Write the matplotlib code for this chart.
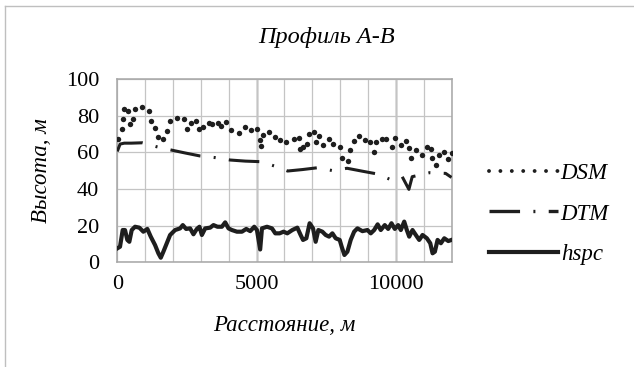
import matplotlib
matplotlib.use('Agg')
import matplotlib.pyplot as plt
from matplotlib.lines import Line2D
from matplotlib.ticker import MultipleLocator

plt.rcParams['font.family'] = ['Liberation Serif', 'DejaVu Serif']
plt.rcParams['lines.scale_dashes'] = False

# DSM (dotted series) - dot positions
dsm_x = [40, 160, 195, 250, 400, 445, 575, 645, 900, 1130,
         1225, 1355, 1450, 1635, 1790, 1905, 2145, 2390, 2520, 2650,
         2840, 2930, 3060, 3290, 3405, 3600, 3730, 3910, 4080, 4365,
         4595, 4810, 5015, 5120, 5170, 5230, 5445, 5645, 5855, 6045,
         6330, 6510, 6570, 6670, 6815, 6885, 7050, 7145, 7245, 7400,
         7605, 7750, 7985, 8085, 8275, 8345, 8490, 8685, 8900, 9065,
         9210, 9305, 9520, 9665, 9870, 9965, 10170, 10360, 10480, 10555,
         10710, 10950, 11130, 11275, 11310, 11455, 11560, 11725, 11870, 12000]
dsm_y = [67.3, 72.5, 78, 83.8, 82.7, 75.4, 78, 83.5, 84.6, 82.7,
         76.9, 73.4, 68.2, 67.1, 71.8, 76.9, 78.7, 78.2, 72.9, 76,
         77.2, 72.5, 73.6, 75.8, 75.6, 76.2, 74.4, 76.7, 72, 70.4,
         73.8, 72, 72.5, 66.9, 63.6, 69.4, 71.2, 68.4, 66.5, 65.7,
         67.1, 67.6, 61.6, 62.9, 64.4, 70, 71.1, 65.5, 68.7, 64,
         67.3, 64.4, 62.7, 57.1, 55.4, 61.3, 66.3, 68.9, 66.5, 65.8,
         60.2, 65.8, 67.3, 67.4, 62.7, 67.6, 64, 66.3, 62.4, 56.7,
         61.3, 58.7, 63.1, 61.8, 56.7, 53.1, 58.5, 60.3, 56.2, 59.5]

# DTM (long dash - dot)
dtm_x = [0, 100, 250, 500, 900, 1400, 1920, 2450, 2975, 3525,
         4050, 4600, 5130, 5650, 6115, 6650, 7195, 7735, 8250, 8800,
         9330, 9785, 10230, 10470, 10590, 11220, 11790, 12000]
dtm_y = [60.5, 64.5, 65, 65, 65.2, 63.1, 61.3, 59.6, 58, 57.1,
         55.8, 55.2, 54.9, 52.5, 49.8, 50.6, 51.6, 50, 51.3, 49.7,
         48.2, 45.3, 46.7, 39.8, 46.7, 48.9, 48.5, 46.3]

# hspc (solid)
hspc_x = [0, 97, 194, 277, 360, 432, 518, 637, 791, 935,
          1079, 1201, 1356, 1475, 1561, 1655, 1777, 1896, 2075, 2255,
          2352, 2471, 2615, 2734, 2856, 2950, 3036, 3155, 3334, 3453,
          3597, 3755, 3874, 3993, 4115, 4295, 4475, 4630, 4773, 4917,
          5014, 5130, 5194, 5374, 5554, 5673, 5827, 5971, 6104, 6284,
          6464, 6583, 6669, 6788, 6906, 7028, 7122, 7219, 7363, 7482,
          7604, 7723, 7842, 7986, 8057, 8155, 8262, 8381, 8504, 8622,
          8802, 8982, 9101, 9223, 9348, 9460, 9604, 9726, 9845, 9964,
          10086, 10180, 10302, 10396, 10482, 10600, 10719, 10841, 10960, 11115,
          11237, 11320, 11403, 11500, 11619, 11741, 11885, 12000]
hspc_y = [7.6, 8.5, 17.6, 17.6, 12.2, 11.2, 17.6, 19.4, 18.9, 16.7,
          18.2, 14, 9.4, 4.9, 2.5, 5.8, 10.4, 14.9, 17.6, 18.5,
          20.3, 18.2, 18.5, 15.3, 18.2, 19.4, 14.9, 18.5, 18.9, 20.3,
          19.4, 19.4, 21.8, 18.5, 17.6, 16.7, 16.7, 18.2, 17, 19.4,
          17.6, 7, 18.5, 19.4, 18.5, 15.8, 15.8, 16.7, 15.8, 17.6,
          18.9, 14.9, 12.2, 13.1, 21.3, 18.5, 11.2, 17.6, 16.7, 14.9,
          14, 15.8, 13.1, 12.2, 8.5, 4, 5.8, 12.2, 16.7, 18.5,
          17, 17.6, 15.8, 17.6, 20.7, 17.6, 20.3, 18.2, 21.3, 18.2,
          20.3, 17.6, 22.2, 17.6, 14, 17.6, 14.9, 12.2, 14.9, 13.1,
          10.4, 4.9, 5.8, 12.2, 10.4, 13.1, 11.6, 12.2]

x_ticks = [0, 5000, 10000]
x_major_lines = [5000, 10000]
y_ticks = [0, 20, 40, 60, 80, 100]

ink = '#1e1e1e'
grid_col = '#c4c4c4'
fs_tick = 16
fs_lab = 16.5
dtm_dash = (22, 9.6, 1.44, 9.6)

fig = plt.figure(figsize=(6.34, 3.67), dpi=100)
ax = fig.add_axes([117.3 / 634, 1 - 262.3 / 367, (451.5 - 117.3) / 634, (262.3 - 79) / 367])

ax.plot(hspc_x, hspc_y, color=ink, lw=3.0, solid_joinstyle='round', zorder=3)
ax.plot(dtm_x, dtm_y, color=ink, lw=2.2, dashes=dtm_dash, zorder=3)
ax.plot(dsm_x, dsm_y, linestyle='none', marker='o', ms=3.9, color=ink, mec='none', zorder=3)

ax.set_xlim(0, 12000)
ax.set_ylim(0, 100)
ax.set_xticks(x_ticks)
ax.set_yticks(y_ticks)
ax.xaxis.set_minor_locator(MultipleLocator(1000))
ax.grid(True, which='both', color=grid_col, lw=0.9, zorder=0)
for xv in x_major_lines:
    ax.axvline(xv, color='black', lw=0.9, zorder=1)
for s in ax.spines.values():
    s.set_color('#a6a6a6')
    s.set_linewidth(1.1)
ax.tick_params(which='both', length=0)
ax.tick_params(axis='y', pad=13, labelsize=fs_tick)
ax.tick_params(axis='x', pad=9, labelsize=fs_tick)

fig.text(327 / 634, 1 - 37 / 367, 'Профиль А-В', fontsize=17.5, style='italic',
         ha='center', va='center')
ax.set_xlabel('Расстояние, м', fontsize=fs_lab, style='italic', labelpad=15)
ax.set_ylabel('Высота, м', fontsize=fs_lab, style='italic', labelpad=10)

handles = [
    Line2D([], [], color=ink, lw=2.8, dashes=(0.01, 8.2), dash_capstyle='round'),
    Line2D([], [], color=ink, lw=2.4, dashes=dtm_dash),
    Line2D([], [], color=ink, lw=3.0),
]
fig.legend(handles, ['DSM', 'DTM', 'hspc'], loc='center left',
           bbox_to_anchor=(489 / 634, 1 - 214 / 367), frameon=False,
           prop={'family': 'Liberation Serif', 'style': 'italic', 'size': fs_lab},
           handlelength=3.0, handletextpad=0.13, labelspacing=0.85, borderpad=0,
           borderaxespad=0)

# outer chart border (top and left visible in the crop)
fig.add_artist(Line2D([5 / 634, 1.0], [1 - 6 / 367, 1 - 6 / 367], color='#bfbfbf', lw=1.0))
fig.add_artist(Line2D([5 / 634, 5 / 634], [0.0, 1 - 6 / 367], color='#bfbfbf', lw=1.0))

fig.savefig('out.png', dpi=100)
